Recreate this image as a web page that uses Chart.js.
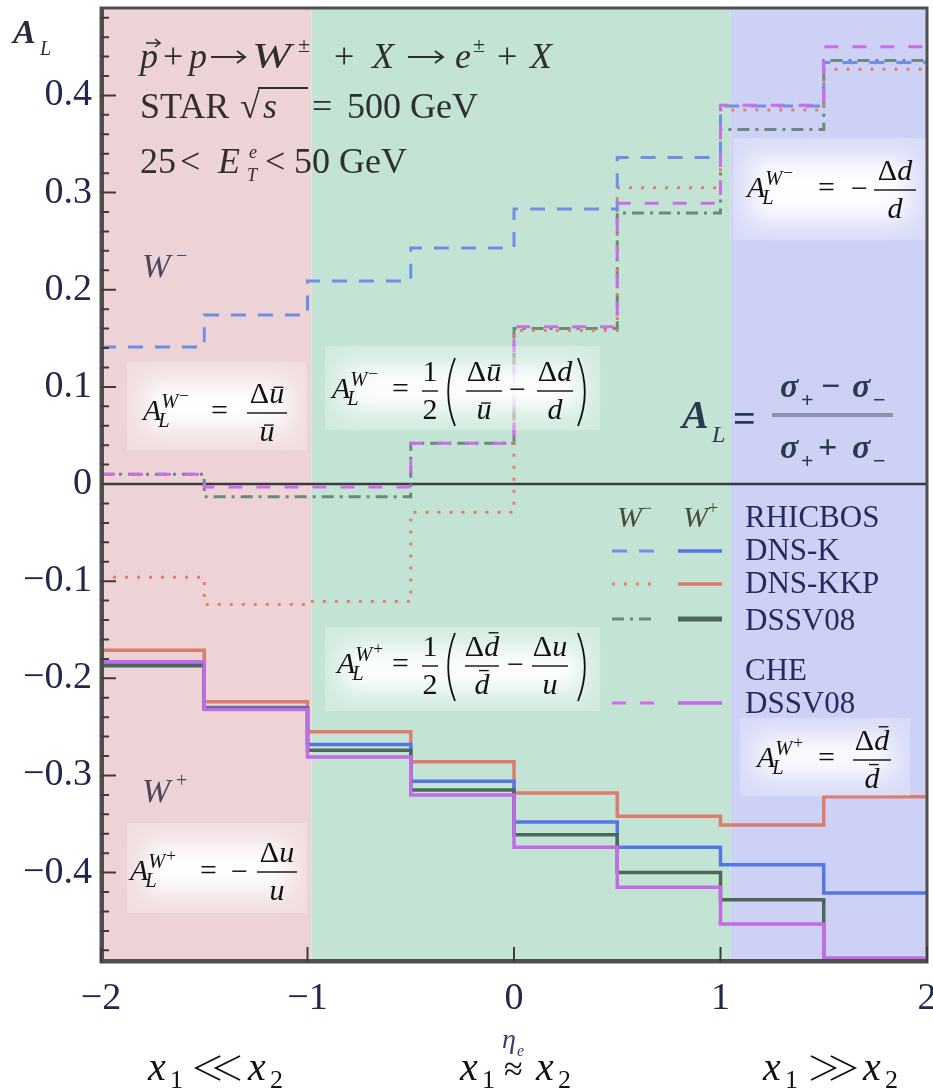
<!DOCTYPE html>
<html>
<head>
<meta charset="utf-8">
<script src="https://cdn.jsdelivr.net/npm/chart.js@4.4.1/dist/chart.umd.min.js"></script>
<style>
  html, body { margin: 0; padding: 0; background: #fff; }
  canvas { display: block; }
</style>
</head>
<body>
<canvas id="asym" width="933" height="1090"></canvas>
<script>
// bins in eta_e: each value holds from its start to the next start (last one to 2)
const binStarts = [-2, -1.5, -1, -0.5, 0, 0.5, 1, 1.5];
const binEnd = 2;

// W- (dashed / dotted)
const wmDnsK   = [0.141, 0.174, 0.209, 0.243, 0.283, 0.336, 0.389, 0.434];
const wmDnsKKP = [-0.096, -0.124, -0.121, -0.029, 0.158, 0.305, 0.385, 0.427];
const wmDssv   = [0.010, -0.013, -0.013, 0.042, 0.160, 0.279, 0.365, 0.436];
const wmChe    = [0.010, -0.003, -0.003, 0.042, 0.162, 0.289, 0.390, 0.450];

// W+ (solid)
const wpDnsK   = [-0.184, -0.230, -0.268, -0.306, -0.348, -0.374, -0.392, -0.421];
const wpDnsKKP = [-0.171, -0.224, -0.255, -0.286, -0.318, -0.342, -0.351, -0.322];
const wpDssv   = [-0.187, -0.231, -0.274, -0.315, -0.361, -0.400, -0.428, -0.490];
const wpChe    = [-0.183, -0.232, -0.281, -0.320, -0.374, -0.415, -0.453, -0.488];

const xTicks = [-2, -1, 0, 1, 2];
const yTicks = [-0.4, -0.3, -0.2, -0.1, 0, 0.1, 0.2, 0.3, 0.4];
const regionEdges = [-2, -0.98, 1.05, 2];
const regionColors = ["#edd3d6", "#c3e4d4", "#cdd1f6"];

const SERIF = '"Liberation Serif", "DejaVu Serif", serif';
const STY = {
  dnsK:   { m: "#6f8ee8", p: "#5576e6", dash: [15, 12] },
  dnsKKP: { m: "#e2806c", p: "#dc7c6c", dash: [3, 9] },
  dssv:   { m: "#6b8a78", p: "#4d6858", dash: [12, 6, 3, 6] },
  che:    { m: "#cc6ee8", p: "#c46ae8", dash: [14, 14] }
};

function steps(vals) {
  const pts = binStarts.map((b, i) => ({ x: b, y: vals[i] }));
  pts.push({ x: binEnd, y: vals[vals.length - 1] });
  return pts;
}

function ds(vals, color, dash, width) {
  return {
    data: steps(vals),
    borderColor: color,
    borderWidth: width,
    borderDash: dash || [],
    stepped: "before",
    pointRadius: 0,
    fill: false
  };
}

function fnt(size, it, bold) {
  return (it ? "italic " : "") + (bold ? "bold " : "") + size + "px " + SERIF;
}

function runWidth(ctx, parts, size) {
  let w = 0;
  for (const p of parts) {
    ctx.font = fnt(size * (p.s || 1), p.it, p.b);
    w += ctx.measureText(p.t).width + (p.gap || 0);
  }
  return w;
}

function drawRun(ctx, parts, x, y, size) {
  let cx = x;
  for (const p of parts) {
    const s = size * (p.s || 1);
    const yy = y + (p.dy || 0) * size;
    ctx.font = fnt(s, p.it, p.b);
    ctx.fillText(p.t, cx, yy);
    const w = ctx.measureText(p.t).width;
    if (p.bar) ctx.fillRect(cx + w * 0.3, yy - s * p.bar, w * 0.65, Math.max(1.3, s * 0.045));
    cx += w + (p.gap || 0);
  }
  return cx;
}

function frac(ctx, cx, barY, num, den, size, barW) {
  const nw = runWidth(ctx, num, size), dw = runWidth(ctx, den, size);
  const bw = barW || Math.max(nw, dw) + 6;
  ctx.fillRect(cx - bw / 2, barY - 0.7, bw, 1.4);
  drawRun(ctx, num, cx - nw / 2, barY - size * 0.33, size);
  drawRun(ctx, den, cx - dw / 2, barY + size * 0.93, size);
}

function paren(ctx, x, top, bot, right) {
  const w = 8;
  ctx.beginPath();
  if (!right) {
    ctx.moveTo(x + w, top);
    ctx.quadraticCurveTo(x - w * 0.7, (top + bot) / 2, x + w, bot);
  } else {
    ctx.moveTo(x, top);
    ctx.quadraticCurveTo(x + w * 1.7, (top + bot) / 2, x, bot);
  }
  ctx.lineWidth = 1.8;
  ctx.stroke();
}

function arrow(ctx, x, y, len) {
  ctx.lineWidth = 2;
  ctx.beginPath();
  ctx.moveTo(x, y); ctx.lineTo(x + len, y);
  ctx.moveTo(x + len - 8, y - 6); ctx.lineTo(x + len, y); ctx.lineTo(x + len - 8, y + 6);
  ctx.stroke();
}

// much less / much greater: two nested chevrons
function chevrons(ctx, x, y, w, h, left) {
  ctx.lineWidth = 1.8;
  ctx.beginPath();
  const cw = w * 0.55;
  for (const off of [0, w - cw]) {
    if (left) {
      ctx.moveTo(x + off + cw, y - h / 2); ctx.lineTo(x + off, y); ctx.lineTo(x + off + cw, y + h / 2);
    } else {
      ctx.moveTo(x + off, y - h / 2); ctx.lineTo(x + off + cw, y); ctx.lineTo(x + off, y + h / 2);
    }
  }
  ctx.stroke();
}

function drawAL(ctx, x, y, size, sign) {
  ctx.font = fnt(size, true);
  ctx.fillText("A", x, y);
  const aw = ctx.measureText("A").width;
  const ss = size * 0.68;
  ctx.font = fnt(ss, true);
  ctx.fillText("W", x + aw, y - size * 0.4);
  const ww = ctx.measureText("W").width;
  ctx.font = fnt(ss * 0.85, false);
  ctx.fillText(sign, x + aw + ww + 1, y - size * 0.62);
  ctx.font = fnt(ss, true);
  ctx.fillText("L", x + aw - 3, y + size * 0.22);
}

function txt(ctx, s, x, y, size, it, bold) {
  ctx.font = fnt(size, it, bold);
  ctx.fillText(s, x, y);
  return ctx.measureText(s).width;
}

function glow(ctx, x, y, w, h) {
  ctx.save();
  ctx.fillStyle = "rgba(255,255,255,0.25)";
  ctx.fillRect(x, y, w, h);
  ctx.filter = "blur(12px)";
  ctx.fillStyle = "rgba(255,255,255,0.95)";
  ctx.fillRect(x + 18, y + 20, w - 36, h - 40);
  ctx.restore();
}

const D = { t: "\u0394" };
const uBar = { t: "u", it: 1, bar: 0.55 };
const dBar = { t: "d", it: 1, bar: 0.8 };
const uIt = { t: "u", it: 1 };
const dIt = { t: "d", it: 1 };

function drawFormulas(ctx) {
  const S = 30;
  glow(ctx, 127, 362, 180, 88);
  glow(ctx, 325, 346, 275, 84);
  glow(ctx, 733, 138, 194, 102);
  glow(ctx, 325, 627, 275, 84);
  glow(ctx, 740, 718, 170, 78);
  glow(ctx, 127, 823, 180, 90);

  ctx.fillStyle = "#111";
  ctx.strokeStyle = "#111";

  drawAL(ctx, 143, 420, S, "\u2212");
  txt(ctx, "=", 211, 420, S);
  frac(ctx, 267, 413, [D, uBar], [uBar], S, 40);

  drawAL(ctx, 332, 398, S, "\u2212");
  txt(ctx, "=", 392, 398, S);
  frac(ctx, 430, 391, [{ t: "1" }], [{ t: "2" }], S, 16);
  paren(ctx, 447, 358, 426, false);
  frac(ctx, 484, 391, [D, uBar], [uBar], S, 36);
  txt(ctx, "\u2212", 509, 399, S);
  frac(ctx, 555, 391, [D, dIt], [dIt], S, 36);
  paren(ctx, 578, 358, 426, true);

  drawAL(ctx, 747, 197, S, "\u2212");
  txt(ctx, "=", 818, 197, S);
  txt(ctx, "\u2212", 851, 198, S);
  frac(ctx, 895, 190, [D, dIt], [dIt], S, 42);

  drawAL(ctx, 337, 673, S, "+");
  txt(ctx, "=", 392, 673, S);
  frac(ctx, 430, 666, [{ t: "1" }], [{ t: "2" }], S, 16);
  paren(ctx, 447, 633, 701, false);
  frac(ctx, 482, 666, [D, dBar], [dBar], S, 34);
  txt(ctx, "\u2212", 507, 674, S);
  frac(ctx, 550, 666, [D, uIt], [uIt], S, 36);
  paren(ctx, 578, 633, 701, true);

  drawAL(ctx, 757, 767, S, "+");
  txt(ctx, "=", 818, 767, S);
  frac(ctx, 872, 760, [D, dBar], [dBar], S, 38);

  drawAL(ctx, 130, 880, S, "+");
  txt(ctx, "=", 200, 880, S);
  txt(ctx, "\u2212", 231, 881, S);
  frac(ctx, 277, 872, [D, uIt], [uIt], S, 40);

  // A_L = (s+ - s-)/(s+ + s-)
  ctx.fillStyle = "#2b3a4e";
  txt(ctx, "A", 682, 428, 40, true, true);
  txt(ctx, "L", 712, 442, 24, true);
  txt(ctx, "=", 733, 432, 40, false, true);
  ctx.fillStyle = "#8a93ad";
  ctx.fillRect(772, 413, 121, 4);
  ctx.fillStyle = "#2b3a4e";
  txt(ctx, "\u03c3", 780, 397, 34, true, true);
  txt(ctx, "+", 801, 407, 22, false, true);
  txt(ctx, "\u2212", 821, 397, 34, false, true);
  txt(ctx, "\u03c3", 852, 397, 34, true, true);
  txt(ctx, "\u2212", 873, 407, 22, false, true);
  txt(ctx, "\u03c3", 780, 458, 34, true, true);
  txt(ctx, "+", 801, 468, 22, false, true);
  txt(ctx, "+", 818, 458, 34, false, true);
  txt(ctx, "\u03c3", 852, 458, 34, true, true);
  txt(ctx, "\u2212", 873, 468, 22, false, true);
}

function drawTitle(ctx) {
  ctx.fillStyle = "#2f2f2f";
  ctx.strokeStyle = "#2f2f2f";
  const T = 36;
  txt(ctx, "p", 140, 68, T, true);
  ctx.lineWidth = 1.6;
  ctx.beginPath();
  ctx.moveTo(146, 43); ctx.lineTo(160, 43);
  ctx.moveTo(155, 39); ctx.lineTo(160, 43); ctx.lineTo(155, 47);
  ctx.stroke();
  txt(ctx, "+", 163, 68, T);
  txt(ctx, "p", 189, 68, T, true);
  arrow(ctx, 211, 57, 34);
  ctx.save();
  ctx.translate(252, 68);
  ctx.scale(1.3, 1);
  txt(ctx, "W", 0, 0, T, true);
  ctx.restore();
  txt(ctx, "\u00b1", 298, 52, 22);
  txt(ctx, "+", 334, 68, T);
  txt(ctx, "X", 372, 68, T, true);
  arrow(ctx, 408, 57, 35);
  txt(ctx, "e", 455, 68, T, true);
  txt(ctx, "\u00b1", 473, 52, 22);
  txt(ctx, "+", 497, 68, T);
  txt(ctx, "X", 530, 68, T, true);

  txt(ctx, "STAR", 140, 118, T);
  txt(ctx, "\u221a", 240, 118, T);
  ctx.fillRect(258, 87, 50, 2);
  txt(ctx, "s", 263, 118, T, true);
  txt(ctx, "=", 312, 118, T);
  txt(ctx, "500 GeV", 347, 118, T);

  txt(ctx, "25", 140, 173, T);
  txt(ctx, "<", 180, 173, T);
  txt(ctx, "E", 218, 173, T, true);
  txt(ctx, "e", 249, 158, 18, true);
  txt(ctx, "T", 247, 181, 18, true);
  txt(ctx, "<", 265, 173, T);
  txt(ctx, "50 GeV", 294, 173, T);

  ctx.fillStyle = "#4b4560";
  txt(ctx, "W", 142, 277, 34, true);
  txt(ctx, "\u2212", 176, 262, 20);
  txt(ctx, "W", 142, 802, 34, true);
  txt(ctx, "+", 176, 787, 20);
}

function drawLegend(ctx) {
  const rows = [
    { k: "dnsK", y: 551, ty: 560, label: "DNS-K" },
    { k: "dnsKKP", y: 584, ty: 593, label: "DNS-KKP" },
    { k: "dssv", y: 619, ty: 630, label: "DSSV08" },
    { k: "che", y: 703, ty: 713, label: "DSSV08" }
  ];
  ctx.fillStyle = "#4a4a3a";
  txt(ctx, "W", 617, 527, 30, true);
  txt(ctx, "\u2212", 642, 514, 18);
  txt(ctx, "W", 683, 527, 30, true);
  txt(ctx, "+", 708, 514, 18);
  ctx.fillStyle = "#262a5e";
  txt(ctx, "RHICBOS", 745, 527, 31);
  txt(ctx, "CHE", 745, 680, 31);
  for (const r of rows) {
    const st = STY[r.k];
    ctx.save();
    ctx.lineWidth = 3;
    ctx.strokeStyle = st.m;
    ctx.setLineDash(st.dash);
    ctx.beginPath(); ctx.moveTo(612, r.y); ctx.lineTo(657, r.y); ctx.stroke();
    ctx.setLineDash([]);
    ctx.strokeStyle = st.p;
    ctx.lineWidth = r.k === "dssv" ? 5 : 3.5;
    ctx.beginPath(); ctx.moveTo(678, r.y); ctx.lineTo(722, r.y); ctx.stroke();
    ctx.restore();
    ctx.fillStyle = "#262a5e";
    txt(ctx, r.label, 745, r.ty, 31);
  }
}

const decorPlugin = {
  id: "decor",
  beforeDatasetsDraw(chart) {
    const { ctx, chartArea: a, scales: { x } } = chart;
    ctx.save();
    for (let i = 0; i < regionColors.length; i++) {
      const x0 = x.getPixelForValue(regionEdges[i]);
      const x1 = x.getPixelForValue(regionEdges[i + 1]);
      ctx.fillStyle = regionColors[i];
      ctx.fillRect(x0, a.top, x1 - x0, a.bottom - a.top);
    }
    ctx.restore();
  },
  afterDatasetsDraw(chart) {
    const { ctx, chartArea: a, scales: { x, y } } = chart;
    ctx.save();
    ctx.textBaseline = "alphabetic";
    ctx.textAlign = "left";
    drawFormulas(ctx);
    drawTitle(ctx);
    drawLegend(ctx);

    // frame and inner ticks
    ctx.strokeStyle = "#4f4f4f";
    ctx.lineWidth = 3;
    ctx.strokeRect(a.left, a.top, a.right - a.left, a.bottom - a.top);
    ctx.lineWidth = 2;
    ctx.beginPath();
    ctx.moveTo(a.left + 2, a.top); ctx.lineTo(a.left + 2, a.bottom);
    ctx.moveTo(a.left, a.bottom - 2); ctx.lineTo(a.right, a.bottom - 2);
    ctx.stroke();
    ctx.strokeStyle = "#3c3c3c";
    ctx.lineWidth = 2;
    ctx.beginPath();
    for (let k = -24; k <= 24; k++) {
      const py = y.getPixelForValue(k * 0.02);
      const len = k % 5 === 0 ? 15 : 8;
      ctx.moveTo(a.left, py); ctx.lineTo(a.left + len, py);
    }
    for (const v of xTicks) {
      const px = x.getPixelForValue(v);
      ctx.moveTo(px, a.bottom); ctx.lineTo(px, a.bottom - 15);
    }
    ctx.stroke();

    // axis titles
    ctx.fillStyle = "#2a2a3a";
    txt(ctx, "A", 13, 43, 34, true, true);
    txt(ctx, "L", 40, 55, 20, true);
    ctx.fillStyle = "#3a3f6a";
    txt(ctx, "\u03b7", 502, 1048, 28, true);
    txt(ctx, "e", 517, 1056, 16, true);

    ctx.fillStyle = "#111";
    ctx.strokeStyle = "#111";
    const xs = [[148, "ll", 100], [460, "\u2248", 76], [763, "gg", 100]];
    for (const [x0, op, x2] of xs) {
      txt(ctx, "x", x0, 1080, 40, true);
      txt(ctx, "1", x0 + 22, 1088, 26);
      if (op === "ll") chevrons(ctx, x0 + 48, 1068, 44, 24, true);
      else if (op === "gg") chevrons(ctx, x0 + 48, 1068, 44, 24, false);
      else txt(ctx, op, x0 + 44, 1080, 34);
      txt(ctx, "x", x0 + x2, 1080, 40, true);
      txt(ctx, "2", x0 + x2 + 22, 1088, 26);
    }
    ctx.restore();
  }
};

Chart.defaults.font.family = SERIF;

const zeroLine = { data: [{ x: -2, y: 0 }, { x: 2, y: 0 }], borderColor: "#3a3a3a", borderWidth: 2.5, pointRadius: 0, fill: false };

new Chart(document.getElementById("asym"), {
  type: "line",
  data: {
    datasets: [
      ds(wpChe, STY.che.p, null, 3.5),
      ds(wpDssv, STY.dssv.p, null, 3.5),
      ds(wpDnsK, STY.dnsK.p, null, 3.5),
      ds(wpDnsKKP, STY.dnsKKP.p, null, 3.5),
      ds(wmChe, STY.che.m, STY.che.dash, 3),
      ds(wmDnsK, STY.dnsK.m, STY.dnsK.dash, 3),
      ds(wmDnsKKP, STY.dnsKKP.m, STY.dnsKKP.dash, 3),
      ds(wmDssv, STY.dssv.m, STY.dssv.dash, 3),
      zeroLine
    ]
  },
  options: {
    responsive: false,
    animation: false,
    devicePixelRatio: 1,
    layout: { padding: { top: 8, right: 6, left: 0, bottom: 0 } },
    plugins: { legend: { display: false }, tooltip: { enabled: false } },
    scales: {
      x: {
        type: "linear",
        min: -2,
        max: 2,
        afterBuildTicks: s => { s.ticks = xTicks.map(v => ({ value: v })); },
        afterFit: s => { s.height = 128; s.paddingLeft = 0; s.paddingRight = 0; },
        grid: { display: false, drawTicks: false },
        border: { display: false },
        ticks: {
          autoSkip: false,
          maxRotation: 0,
          padding: 14,
          color: "#23264d",
          font: { size: 38, family: SERIF },
          callback: v => (v < 0 ? "\u2212" : "") + Math.abs(v)
        }
      },
      y: {
        type: "linear",
        min: -0.492,
        max: 0.49,
        afterBuildTicks: s => { s.ticks = yTicks.map(v => ({ value: v })); },
        afterFit: s => { s.width = 101; s.paddingTop = 0; s.paddingBottom = 0; },
        grid: { display: false, drawTicks: false },
        border: { display: false },
        ticks: {
          autoSkip: false,
          padding: 9,
          color: "#23264d",
          font: { size: 38, family: SERIF },
          callback: v => Math.abs(v) < 1e-9 ? "0" : (v < 0 ? "\u2212" : "") + Math.abs(v).toFixed(1)
        }
      }
    }
  },
  plugins: [decorPlugin]
});
</script>
</body>
</html>
